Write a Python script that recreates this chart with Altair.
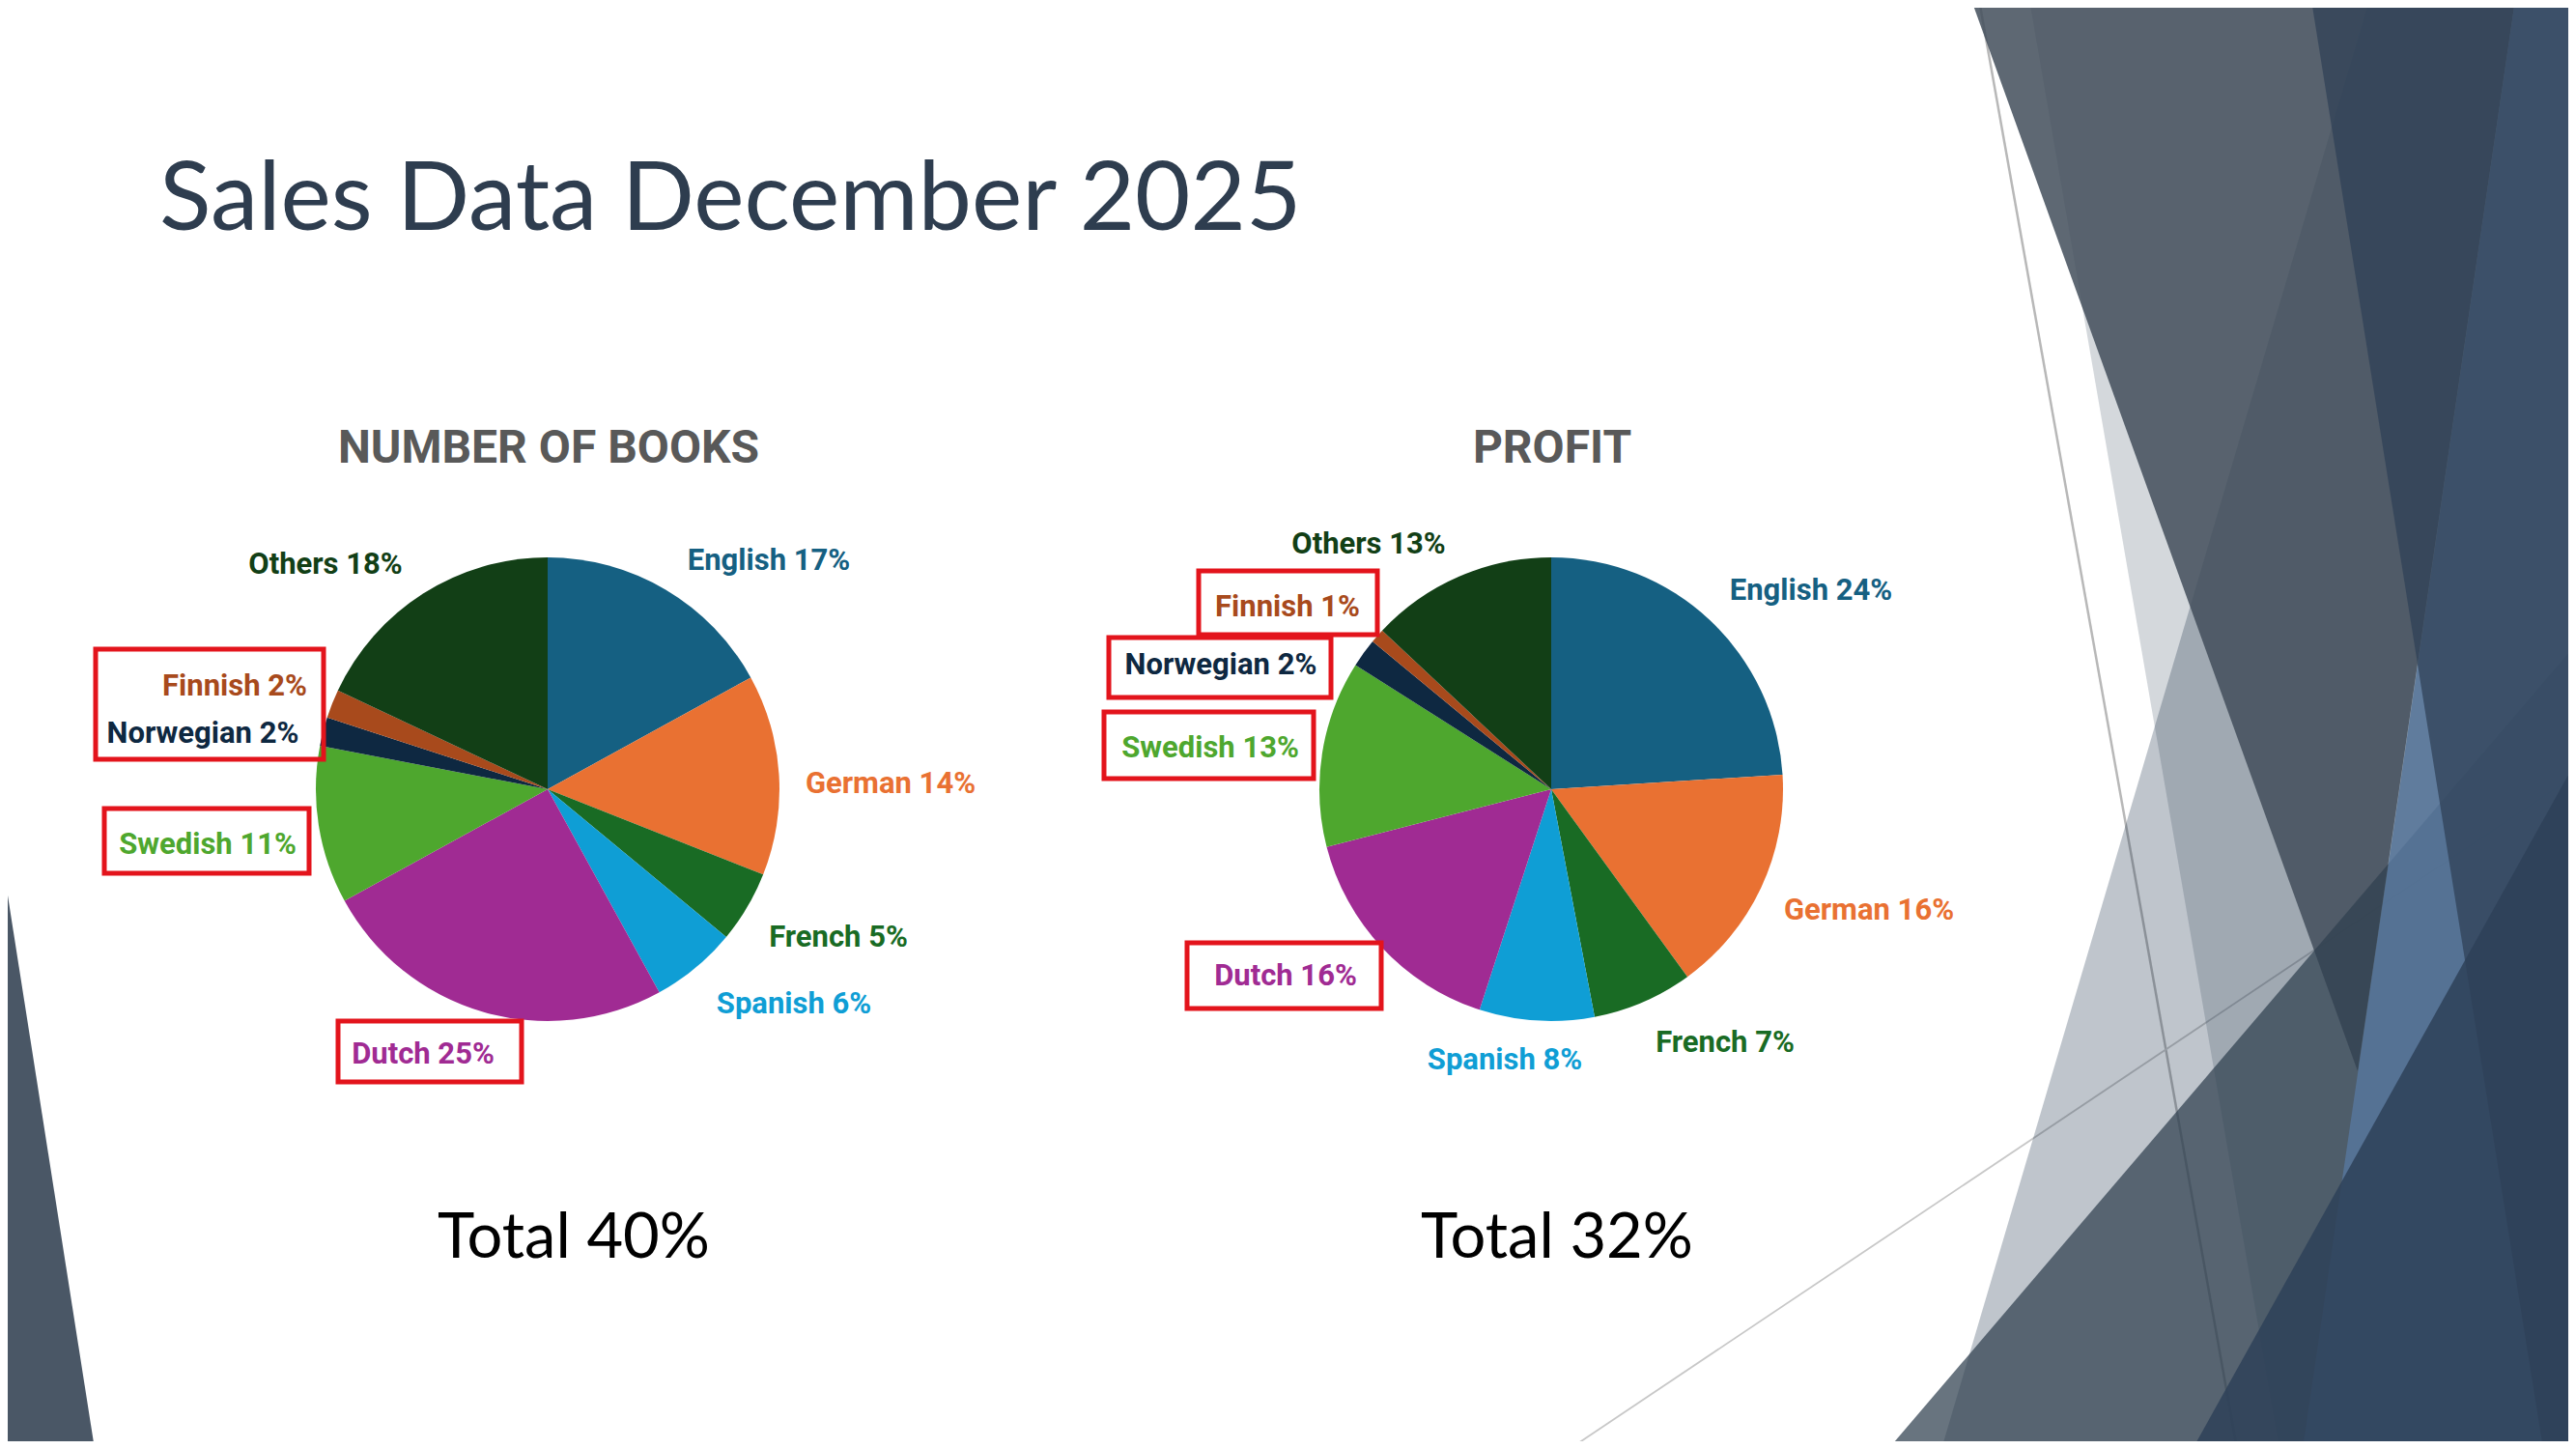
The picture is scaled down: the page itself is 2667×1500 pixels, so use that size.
import altair as alt
import pandas as pd

# ---------------- data ----------------
LANGS = ["English", "German", "French", "Spanish", "Dutch", "Swedish", "Norwegian", "Finnish", "Others"]
BOOKS = [17, 14, 5, 6, 25, 11, 2, 2, 18]
PROFIT = [24, 16, 7, 8, 16, 13, 2, 1, 13]
COLORS = ["#156082", "#e97132", "#196b24", "#0f9ed5", "#a02b93", "#4ea72e", "#0e2841", "#a84a1c", "#123f16"]
TITLE = "Sales Data December 2025"
PIE_TITLES = ["NUMBER OF BOOKS", "PROFIT"]
TOTALS = ["Total 40%", "Total 32%"]

# ---------------- layout (image pixel coordinates) ----------------
M = 8
W, H = 2651, 1484
PIE_CENTERS = [(567, 817), (1606, 817)]
TOTAL_X = [594, 1612]
PIE_R = 240
BOOK_LABEL_POS = [(796, 581), (922, 812), (868, 971), (822, 1040), (438, 1092),
                  (215, 875), (210, 760), (243, 711), (337, 585)]
PROFIT_LABEL_POS = [(1875, 612), (1935, 943), (1786, 1080), (1558, 1098), (1331, 1011),
                    (1253, 775), (1264, 689), (1333, 629), (1417, 564)]
BOOK_BOXES = [(99, 335, 672, 786), (108, 320, 837, 904), (350, 540, 1057, 1120)]
PROFIT_BOXES = [(1241, 1426, 591, 657), (1148, 1378, 660, 722), (1143, 1360, 737, 806), (1229, 1430, 976, 1044)]
RED = "#e3141c"

XS = alt.Scale(domain=[M, M + W])
YS = alt.Scale(domain=[M, M + H], reverse=True)


def X(f):
    return alt.X(f, scale=XS, axis=None)


def Y(f):
    return alt.Y(f, scale=YS, axis=None)


layers = []

# ---------------- background facets ----------------
# each: (color, opacity, y_top, xl_top, xr_top, y_bot, xl_bot, xr_bot)
SHAPES = [
    ("#334659", 0.21, 0, 2101, 2667, 1500, 2360, 2667),
    ("#1a3049", 0.28, 0, 2453, 2667, 1500, 2010, 2667),
    ("#424d5a", 0.85, 0, 2041, 2604, 1109, 2441, 2441),
    ("#304050", 0.73, 667, 2667, 2667, 1500, 1955, 2667),
    ("#57759a", 0.88, 0, 2604, 2667, 1500, 2384, 2667),
    ("#2f4156", 0.74, 0, 2393, 2667, 1500, 2633, 2667),
    ("#2e4158", 0.85, 788, 2667, 2667, 1500, 2270, 2667),
    ("#4a5766", 1.0, 876, 0, 0, 1500, 0, 98),
]
LINES = [
    ("#b8b8b8", 2.5, (2049, 0), (2316, 1500)),
    ("#c8c8c8", 1.8, (1625, 1500), (2667, 802)),
]

for col, w, p0, p1 in LINES:
    d = pd.DataFrame({"x": [p0[0], p1[0]], "y": [p0[1], p1[1]]})
    layers.append(alt.Chart(d).mark_line(color=col, strokeWidth=w).encode(x=X("x:Q"), y=Y("y:Q")))

for col, op, y0, xl0, xr0, y1, xl1, xr1 in SHAPES:
    d = pd.DataFrame({"y": [y0, y1], "x": [xl0, xl1], "x2": [xr0, xr1]})
    layers.append(
        alt.Chart(d).mark_area(orient="horizontal", color=col, opacity=op)
        .encode(y=Y("y:Q"), x=X("x:Q"), x2="x2:Q")
    )

# ---------------- pies ----------------
for vals, (cx, cy), pos, boxes, ptitle, tot, tx in [
    (BOOKS, PIE_CENTERS[0], BOOK_LABEL_POS, BOOK_BOXES, PIE_TITLES[0], TOTALS[0], TOTAL_X[0]),
    (PROFIT, PIE_CENTERS[1], PROFIT_LABEL_POS, PROFIT_BOXES, PIE_TITLES[1], TOTALS[1], TOTAL_X[1]),
]:
    pdf = pd.DataFrame({"lang": LANGS, "v": vals, "c": COLORS, "i": list(range(len(LANGS)))})
    layers.append(
        alt.Chart(pdf).mark_arc(outerRadius=PIE_R, stroke=None)
        .encode(
            theta=alt.Theta("v:Q", stack=True),
            color=alt.Color("c:N", scale=None),
            order=alt.Order("i:Q"),
            x=alt.XDatum(cx, scale=XS, axis=None),
            y=alt.YDatum(cy, scale=YS, axis=None),
        )
    )
    ldf = pd.DataFrame({
        "t": [f"{l} {v}%" for l, v in zip(LANGS, vals)],
        "x": [p[0] for p in pos],
        "y": [p[1] for p in pos],
        "c": COLORS,
    })
    layers.append(
        alt.Chart(ldf).mark_text(font="Roboto", fontWeight="bold", fontSize=31, align="center", baseline="middle")
        .encode(x=X("x:Q"), y=Y("y:Q"), text="t:N", color=alt.Color("c:N", scale=None))
    )
    bdf = pd.DataFrame({
        "x": [b[0] for b in boxes], "x2": [b[1] for b in boxes],
        "y": [b[2] for b in boxes], "y2": [b[3] for b in boxes],
    })
    layers.append(
        alt.Chart(bdf).mark_rect(filled=False, stroke=RED, strokeWidth=5)
        .encode(x=X("x:Q"), x2="x2:Q", y=Y("y:Q"), y2="y2:Q")
    )
    layers.append(
        alt.Chart(pd.DataFrame({"t": [ptitle]})).mark_text(
            font="Roboto", fontWeight="bold", fontSize=48, color="#595959", align="center", baseline="alphabetic")
        .encode(x=alt.XDatum(cx + 1, scale=XS, axis=None), y=alt.YDatum(479, scale=YS, axis=None), text="t:N")
    )
    layers.append(
        alt.Chart(pd.DataFrame({"t": [tot]})).mark_text(
            font="Lato", fontSize=65, color="#000000", align="center", baseline="alphabetic")
        .encode(x=alt.XDatum(tx, scale=XS, axis=None), y=alt.YDatum(1302, scale=YS, axis=None), text="t:N")
    )

# ---------------- slide title ----------------
layers.append(
    alt.Chart(pd.DataFrame({"t": [TITLE]})).mark_text(
        font="Lato", fontSize=99, color="#2e3d4f", align="left", baseline="alphabetic")
    .encode(x=alt.XDatum(165, scale=XS, axis=None), y=alt.YDatum(238, scale=YS, axis=None), text="t:N")
)

chart = (
    alt.layer(*layers)
    .properties(width=W, height=H, padding=0, autosize=alt.AutoSizeParams(type="none"), background="white")
    .resolve_scale(theta="independent")
    .configure_view(stroke=None)
)

chart.save("out.html", embed_options={"renderer": "svg", "actions": False})
